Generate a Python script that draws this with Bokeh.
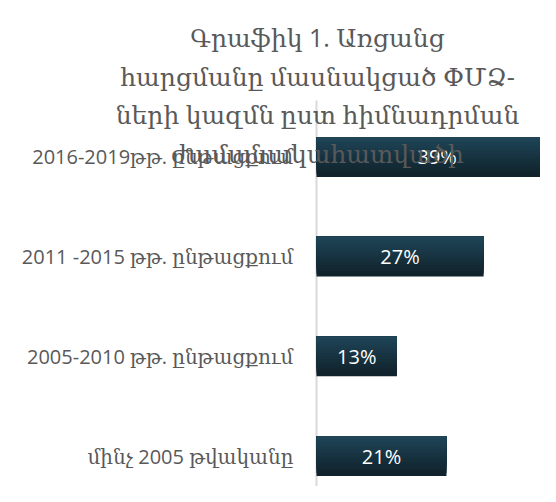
from bokeh.plotting import figure
from bokeh.models import Range1d, Label, ColumnDataSource
from bokeh.core.properties import value
from bokeh.embed import file_html
from bokeh.resources import INLINE
import numpy as np

# ---- data ----
categories = [
    "2016-2019թթ. ընթացքում",
    "2011 -2015 թթ. ընթացքում",
    "2005-2010 թթ. ընթացքում",
    "մինչ 2005 թվականը",
]
shares = [39, 27, 13, 21]
title_lines = [
    "Գրաֆիկ 1. Առցանց",
    "հարցմանը մասնակցած ՓՄՁ-",
    "ների կազմն ըստ հիմնադրման",
    "ժամանակահատվածի",
]

n = len(categories)
ypos = list(range(n - 1, -1, -1))  # top category first
labels = [f"{v}%" for v in shares]

W, H = 540, 486
p = figure(width=W, height=H, output_backend="svg", toolbar_location=None,
           x_range=Range1d(-51.05, 36.19), y_range=Range1d(-0.306, 4.570),
           min_border=0)
p.background_fill_color = "white"
p.border_fill_color = "white"
p.outline_line_color = None
p.grid.visible = False
p.axis.visible = False

# vertical axis line
p.segment(x0=[0], y0=[-0.306], x1=[0], y1=[3.567], line_color="#d9d9d9", line_width=2)

# bars with a vertical gradient (light top -> dark bottom)
bh = 0.4
top_c = np.array([0x1f, 0x45, 0x57])
bot_c = np.array([0x10, 0x22, 0x2b])
N = 14
yarr = np.array(ypos, dtype=float)
for k in range(N):
    t = k / (N - 1)
    c = (bot_c + (top_c - bot_c) * t).astype(int)
    col = "#%02x%02x%02x" % tuple(c)
    src = ColumnDataSource(dict(
        left=[0] * n, right=shares,
        top=list(yarr + bh / 2),
        bottom=list(yarr + bh / 2 - bh * (N - k) / N)))
    p.quad(left="left", right="right", top="top", bottom="bottom",
           source=src, fill_color=col, line_color=None)

# value labels
lsrc = ColumnDataSource(dict(x=[v / 2 for v in shares], y=ypos, t=labels))
p.text(x="x", y="y", text="t", source=lsrc, text_color="white",
       text_font=value("'Open Sans'"), text_font_size="20px",
       text_align="center", text_baseline="middle")

# category labels (left of the axis line)
csrc = ColumnDataSource(dict(x=[0] * n, y=ypos, t=categories))
p.text(x="x", y="y", text="t", source=csrc, text_color="#595959",
       text_font=value("'Open Sans', 'DejaVu Serif'"), text_font_size="20px",
       text_align="right", text_baseline="middle", x_offset=-23)

# title (overlays the plot like the original)
baselines = [450, 411, 373, 334]
for txt, yb in zip(title_lines, baselines):
    p.add_layout(Label(x=317, y=yb, x_units="screen", y_units="screen",
                       text=txt, text_align="center", text_baseline="alphabetic",
                       text_font="'Open Sans', 'DejaVu Serif'", text_font_size="25px",
                       text_color="#595959"))

open("out.html", "w").write(file_html(p, INLINE))
